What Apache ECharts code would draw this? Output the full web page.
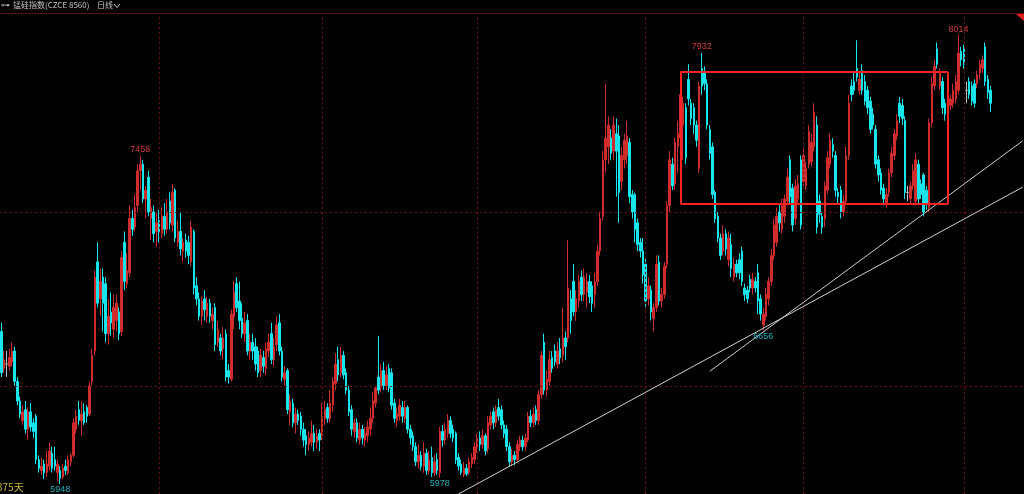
<!DOCTYPE html>
<html>
<head>
<meta charset="utf-8">
<title>锰硅指数 日线</title>
<script src="https://cdn.jsdelivr.net/npm/echarts@6/dist/echarts.min.js"></script>
<style>
  html, body { margin: 0; padding: 0; background: #000; }
  #chart { width: 1024px; height: 494px; }
</style>
</head>
<body>
<div id="chart"></div>
<script>
// daily candles, [open, close, low, high], read off the picture leg by leg
// first leg: drop to 5948, rally to 7458, slide back
const swingA = [
  [6650,6460,6440,6690],[6480,6520,6460,6560],[6500,6500,6440,6560],[6490,6530,6470,6570],
  [6510,6560,6490,6600],[6560,6420,6400,6580],[6420,6330,6310,6440],[6330,6270,6250,6350],
  [6240,6280,6220,6310],[6290,6200,6180,6330],[6200,6280,6150,6300],[6280,6210,6190,6320],
  [6230,6190,6160,6250],[6260,6060,6040,6270],[6060,6020,6000,6080],[6010,6030,5990,6070],
  [6040,6000,5970,6060],[6000,6040,5980,6100],[6030,6100,6010,6140],[6090,6020,6000,6120],
  [6060,6030,6010,6120],[6000,6040,5960,6060],[6010,5975,5948,6030],[5980,6020,5970,6040],
  [6030,6010,5990,6060],[6000,6060,5990,6080],[6050,6080,6030,6090],[6080,6230,6070,6250],
  [6200,6260,6180,6290],[6290,6240,6220,6330],[6240,6270,6170,6330],[6280,6230,6220,6320],
  [6300,6260,6230,6310],[6270,6400,6260,6420],[6420,6540,6400,6570],[6560,6900,6540,6930],
  [6970,6780,6760,7060],[6800,6880,6720,6940],[6900,6780,6650,6940],[6870,6640,6600,6900],
  [6640,6720,6590,6800],[6740,6690,6630,6830],[6660,6760,6620,6820],[6700,6780,6650,6820],
  [6740,6640,6610,6760],[6650,6990,6630,7020],[7060,6880,6840,7110],[6870,6930,6850,7010],
  [6920,7170,6900,7230],[7170,7120,7090,7210],[7130,7220,7110,7280],[7230,7390,7200,7420],
  [7390,7420,7300,7458],[7420,7260,7240,7440],[7260,7300,7170,7320],[7360,7200,7180,7390],
  [7170,7220,7070,7260],[7200,7100,7060,7230],[7110,7150,7040,7200],[7160,7110,7060,7210],
  [7100,7180,7080,7220],[7180,7120,7090,7240],[7120,7200,7100,7260],[7250,7150,7120,7290],
  [7140,7290,7110,7330],[7300,7080,7060,7310],[7060,7110,7040,7160],[7110,7030,7000,7200],
  [7020,7060,6970,7080],[7070,7020,6990,7100],[7060,7000,6960,7090],[6970,7130,6950,7160],
  [7110,6850,6820,7120],[6860,6800,6770,6900],[6800,6720,6700,6830],[6720,6790,6680,6810],
  [6800,6750,6700,6840],[6720,6780,6690,6810],[6780,6720,6690,6800],[6700,6730,6660,6760],
  [6760,6590,6560,6780],[6600,6660,6580,6700],[6620,6560,6540,6640],[6570,6620,6520,6670],
  [6640,6440,6420,6660],[6470,6440,6410,6500],[6430,6730,6420,6750],[6720,6830,6660,6880],
  [6870,6760,6740,6900],[6790,6700,6660,6880],[6710,6640,6620,6780],[6640,6690,6600,6740],
  [6700,6560,6540,6730],[6560,6600,6520,6640],[6600,6560,6520,6640],[6580,6500,6470,6620]
]
// second leg: choppy decline to 5978 and base
const swingB = [
  [6560,6460,6440,6580],[6470,6540,6440,6570],[6530,6490,6460,6560],[6480,6570,6450,6600],
  [6560,6600,6530,6640],[6640,6520,6500,6690],[6520,6580,6490,6620],[6590,6680,6560,6720],
  [6690,6560,6540,6730],[6560,6440,6420,6580],[6430,6460,6400,6490],[6470,6290,6270,6480],
  [6280,6330,6220,6360],[6320,6230,6210,6340],[6230,6270,6180,6300],[6270,6240,6220,6290],
  [6260,6200,6170,6280],[6200,6150,6120,6230],[6170,6130,6080,6200],[6130,6160,6100,6190],
  [6140,6180,6120,6240],[6180,6140,6100,6220],[6140,6170,6110,6200],[6180,6150,6100,6200],
  [6170,6260,6150,6320],[6250,6290,6220,6330],[6300,6250,6230,6320],[6250,6320,6230,6380],
  [6310,6420,6280,6440],[6410,6500,6380,6550],[6520,6450,6420,6580],[6460,6540,6440,6580],
  [6540,6450,6430,6560],[6460,6380,6360,6480],[6380,6280,6260,6400],[6290,6200,6170,6310],
  [6190,6230,6160,6250],[6230,6160,6140,6250],[6150,6200,6130,6230],[6200,6160,6130,6220],
  [6150,6180,6120,6210],[6170,6210,6140,6240],[6200,6250,6170,6300],[6250,6330,6230,6370],
  [6320,6390,6300,6400],[6440,6380,6360,6630],[6390,6470,6370,6500],[6470,6400,6380,6510],
  [6400,6450,6380,6490],[6480,6390,6370,6500],[6460,6310,6290,6480],[6320,6250,6230,6340],
  [6240,6270,6210,6300],[6260,6310,6240,6340],[6300,6260,6230,6330],[6250,6300,6230,6330],
  [6300,6200,6180,6310],[6200,6160,6130,6220],[6170,6120,6100,6190],[6120,6050,6030,6140],
  [6050,6080,6020,6130],[6080,6030,6010,6100],[6030,6090,6000,6140],[6090,6010,5990,6110],
  [6010,6060,5990,6100],[6070,6000,5980,6120],[6000,6050,5985,6080],[6060,6010,5990,6090],
  [6000,6190,5978,6210],[6190,6150,6120,6220],[6150,6200,6130,6230],[6180,6240,6160,6270],
  [6240,6180,6160,6260],[6200,6160,6140,6220],[6180,6060,6040,6190],[6070,6030,6010,6090],
  [6040,6000,5990,6060],[5990,6020,5980,6050],[6020,5995,5985,6040],[6000,6050,5990,6070],
  [6040,6070,6020,6090],[6060,6120,6040,6140],[6110,6160,6090,6180],[6160,6130,6100,6190],
  [6130,6170,6110,6200],[6170,6100,6080,6180],[6110,6230,6090,6260],[6220,6260,6200,6280],
  [6280,6230,6200,6300],[6230,6290,6210,6310],[6300,6260,6240,6340],[6290,6220,6200,6310],
  [6220,6180,6160,6240],[6200,6120,6100,6220],[6120,6050,6030,6140],[6050,6080,6030,6110],
  [6080,6060,6035,6100],[6060,6130,6050,6150],[6120,6150,6100,6170],[6150,6120,6100,6170],
  [6120,6160,6100,6180],[6150,6260,6140,6280],[6260,6230,6210,6290],[6230,6270,6210,6300],
  [6290,6240,6220,6310],[6240,6360,6220,6380],[6360,6540,6340,6560],[6600,6380,6360,6640],
  [6380,6430,6350,6470],[6420,6520,6400,6560]
]
// third leg: breakout to 7932, pullback to 6656
const swingC = [
  [6530,6480,6460,6560],[6560,6510,6490,6590],[6500,6560,6480,6600],[6570,6530,6500,6620],
  [6540,6620,6510,6760],[6620,6580,6520,6650],[6620,6850,6600,7070],[6800,6700,6640,6840],
  [6880,6740,6720,6960],[6740,6800,6700,6840],[6790,6880,6760,6910],[6900,6820,6790,6930],
  [6820,6900,6790,6940],[6830,6880,6760,6920],[6880,6810,6780,6910],[6860,6780,6740,6880],
  [6820,6880,6760,6920],[6880,7020,6860,7050],[7020,7170,7000,7200],[7180,7440,7160,7480],
  [7440,7540,7380,7790],[7500,7600,7420,7640],[7540,7470,7440,7580],[7480,7600,7440,7640],
  [7560,7480,7270,7630],[7550,7290,7150,7600],[7340,7460,7300,7500],[7440,7530,7400,7560],
  [7460,7550,7420,7620],[7520,7270,7240,7540],[7280,7200,7170,7300],[7280,7120,7060,7290],
  [7150,7050,7020,7170],[7060,7020,6990,7080],[7020,6910,6870,7080],[6960,6790,6760,6990],
  [6800,6860,6770,6900],[6840,6740,6700,6860],[6710,6760,6650,6780],[6760,6960,6740,7000],
  [6970,6790,6770,7000],[6790,6820,6760,6850],[6820,6950,6800,6970],[6960,7230,6940,7250],
  [7230,7440,7200,7480],[7420,7320,7300,7450],[7330,7520,7300,7540],[7500,7560,7380,7620],
  [7540,7740,7480,7780],[7600,7700,7440,7730],[7680,7450,7420,7700],[7810,7720,7690,7880],
  [7700,7630,7600,7720],[7680,7600,7560,7700],[7600,7530,7500,7620],[7400,7780,7380,7800],
  [7860,7780,7740,7932],[7840,7790,7760,7870],[7790,7600,7580,7810],[7580,7470,7440,7600],
  [7500,7280,7260,7520],[7290,7170,7150,7300],[7180,7080,7060,7200],[7080,7000,6980,7100],
  [7020,7100,7000,7140],[7100,7030,7000,7120],[6980,7080,6950,7110],[7050,6940,6900,7100],
  [6900,6960,6880,6990],[6960,6920,6900,6980],[6980,6920,6890,7010],[7020,6880,6860,7040],
  [6850,6820,6790,6870],[6840,6800,6780,6860],[6890,6850,6830,6910],[6850,6890,6820,6920],
  [6880,6850,6830,6900],[6920,6790,6730,6960],[6800,6730,6700,6820],[6680,6730,6656,6760],
  [6720,6820,6700,6850]
]
// last leg: range 7240-7850, push to 8014
const swingD = [
  [6800,6880,6770,6900],[6880,7000,6860,7030],[7000,7140,6980,7170],[7060,7180,7040,7220],
  [7200,7150,7110,7240],[7120,7230,7100,7260],[7180,7260,7150,7280],[7250,7360,7230,7400],
  [7440,7270,7240,7460],[7310,7140,7110,7330],[7170,7320,7140,7350],[7260,7330,7240,7370],
  [7440,7140,7120,7460],[7340,7460,7320,7490],[7320,7400,7300,7430],[7420,7570,7400,7600],
  [7430,7520,7410,7560],[7500,7660,7480,7700],[7600,7130,7100,7640],[7250,7190,7150,7280],
  [7180,7130,7100,7200],[7170,7320,7130,7340],[7300,7450,7280,7480],[7420,7530,7400,7560],
  [7510,7480,7450,7540],[7460,7300,7270,7480],[7290,7270,7240,7310],[7300,7200,7170,7320],
  [7200,7250,7180,7280],[7250,7460,7230,7500],[7460,7700,7440,7740],[7780,7740,7710,7810],
  [7800,7760,7740,7840],[7860,7820,7800,7990],[7760,7810,7740,7840],[7850,7760,7740,7880],
  [7800,7710,7690,7830],[7760,7680,7650,7780],[7710,7580,7560,7730],[7650,7600,7580,7680],
  [7580,7420,7400,7600],[7440,7370,7340,7460],[7380,7300,7280,7400],[7310,7260,7230,7330],
  [7240,7280,7220,7310],[7290,7380,7270,7400],[7380,7470,7360,7500],[7460,7560,7440,7580],
  [7550,7620,7530,7650],[7700,7640,7610,7730],[7690,7630,7600,7720],[7620,7290,7260,7640],
  [7290,7290,7250,7320],[7260,7320,7240,7340],[7320,7390,7300,7420],[7250,7440,7230,7470],
  [7420,7260,7240,7440],[7330,7280,7260,7350],[7370,7200,7180,7380],[7300,7240,7210,7320],
  [7220,7610,7200,7630],[7610,7790,7590,7820],[7780,7870,7760,7900],[7950,7880,7860,7980],
  [7780,7840,7760,7860],[7800,7680,7650,7820],[7700,7650,7620,7720],[7680,7700,7660,7730],
  [7690,7720,7670,7740],[7700,7760,7680,7790],[7720,7800,7700,7830],[7760,7930,7740,8014],
  [7940,7900,7870,7960],[7950,7880,7860,7970],[7760,7760,7700,7800],[7800,7740,7720,7820],
  [7780,7710,7690,7800],[7790,7700,7680,7810],[7790,7830,7770,7850],[7840,7880,7810,7900],
  [7860,7900,7840,7920],[7960,7800,7780,7980],[7810,7750,7720,7830],[7760,7700,7660,7780]
]

const ohlc = swingA.concat(swingB, swingC, swingD)

// trading-day slots, a few empty ones keep room on the right
const slotCount = 383
const categories = []
for (let i = 0; i < slotCount; i++) {
  categories.push('D' + (i + 1))
}

// candle indexes whose high / low carries a price tag
const highTags = [52, 262, 358]
const lowTags = [22, 164, 285]

// dotted guides
const guidePrices = [6400, 7200]
const quarterStarts = [59, 120, 178, 241, 300, 360]

// hand-drawn annotations, [candle index, price]
const trendLines = [
  [[171, 5902], [382, 7314]],
  [[265, 6467], [382, 7527]]
]
const rangeBox = [[254, 7844], [354, 7237]]

const chart = echarts.init(document.getElementById('chart'))

const dotted = { color: '#6a1212', width: 1, type: [2, 3] }
const trendStyle = { color: '#cfcfcf', width: 1, type: 'solid' }
const boxStyle = { color: '#ff2222', width: 2, type: 'solid' }

let lineData = []
guidePrices.forEach(p => {
  lineData.push({ yAxis: p, lineStyle: dotted })
})
quarterStarts.forEach(i => {
  lineData.push({ xAxis: i, lineStyle: dotted })
})
trendLines.forEach(t => {
  lineData.push([{ coord: t[0], lineStyle: trendStyle }, { coord: t[1] }])
})
let b0 = rangeBox[0]
let b1 = rangeBox[1]
lineData.push([{ coord: [b0[0], b0[1]], lineStyle: boxStyle }, { coord: [b1[0], b0[1]] }])
lineData.push([{ coord: [b0[0], b1[1]], lineStyle: boxStyle }, { coord: [b1[0], b1[1]] }])
lineData.push([{ coord: [b0[0], b0[1]], lineStyle: boxStyle }, { coord: [b0[0], b1[1]] }])
lineData.push([{ coord: [b1[0], b0[1]], lineStyle: boxStyle }, { coord: [b1[0], b1[1]] }])

let pointData = []
highTags.forEach(i => {
  pointData.push({
    coord: [i, ohlc[i][3]],
    value: ohlc[i][3],
    label: { position: 'top', color: '#d23a3a' }
  })
})
lowTags.forEach(i => {
  pointData.push({
    coord: [i, ohlc[i][2]],
    value: ohlc[i][2],
    label: { position: 'bottom', color: '#1fb0ba' }
  })
})

let option = {
  backgroundColor: '#000',
  animation: false,
  grid: { left: 0, right: 0, top: 14, bottom: 0 },
  xAxis: {
    type: 'category',
    data: categories,
    show: false
  },
  yAxis: {
    type: 'value',
    min: 5902,
    max: 8111,
    show: false,
    splitLine: { show: false }
  },
  series: [
    {
      type: 'candlestick',
      data: ohlc,
      barWidth: 2,
      itemStyle: {
        color: '#cf2d2d',
        color0: '#18e4ec',
        borderColor: '#cf2d2d',
        borderColor0: '#18e4ec',
        borderColorDoji: '#bdbdbd',
        borderWidth: 1
      },
      markLine: {
        silent: true,
        symbol: ['none', 'none'],
        label: { show: false },
        data: lineData
      },
      markPoint: {
        silent: true,
        symbol: 'rect',
        symbolSize: 1,
        itemStyle: { color: 'rgba(0,0,0,0)' },
        label: {
          show: true,
          formatter: '{c}',
          fontSize: 9,
          distance: 1,
          fontFamily: 'Liberation Sans'
        },
        data: pointData
      }
    }
  ],
  graphic: [
    {
      type: 'line',
      shape: { x1: 0, y1: 13.5, x2: 1024, y2: 13.5 },
      style: { stroke: '#5c0c0c', lineWidth: 1 }
    },
    {
      type: 'text',
      left: 1,
      top: 1,
      style: { text: '⊶', fill: '#bdbdbd', font: '9px "DejaVu Sans"' }
    },
    {
      type: 'text',
      left: 13,
      top: 1,
      style: { text: '锰硅指数(CZCE 8560)', fill: '#c4c4c4', font: '8px "Noto Sans CJK SC"' }
    },
    {
      type: 'text',
      left: 97,
      top: 1,
      style: { text: '日线', fill: '#c4c4c4', font: '8px "Noto Sans CJK SC"' }
    },
    {
      type: 'polyline',
      shape: { points: [[114, 4], [117, 7.5], [120, 4]] },
      style: { stroke: '#c4c4c4', lineWidth: 1, fill: null }
    },
    {
      type: 'polygon',
      shape: { points: [[1016, 14], [1024, 14], [1024, 21]] },
      style: { fill: '#e02020' }
    },
    {
      type: 'text',
      left: -3,
      top: 482,
      style: { text: '375天', fill: '#c9b33a', font: '10px "Noto Sans CJK SC"' }
    }
  ]
}

chart.setOption(option)
</script>
</body>
</html>
